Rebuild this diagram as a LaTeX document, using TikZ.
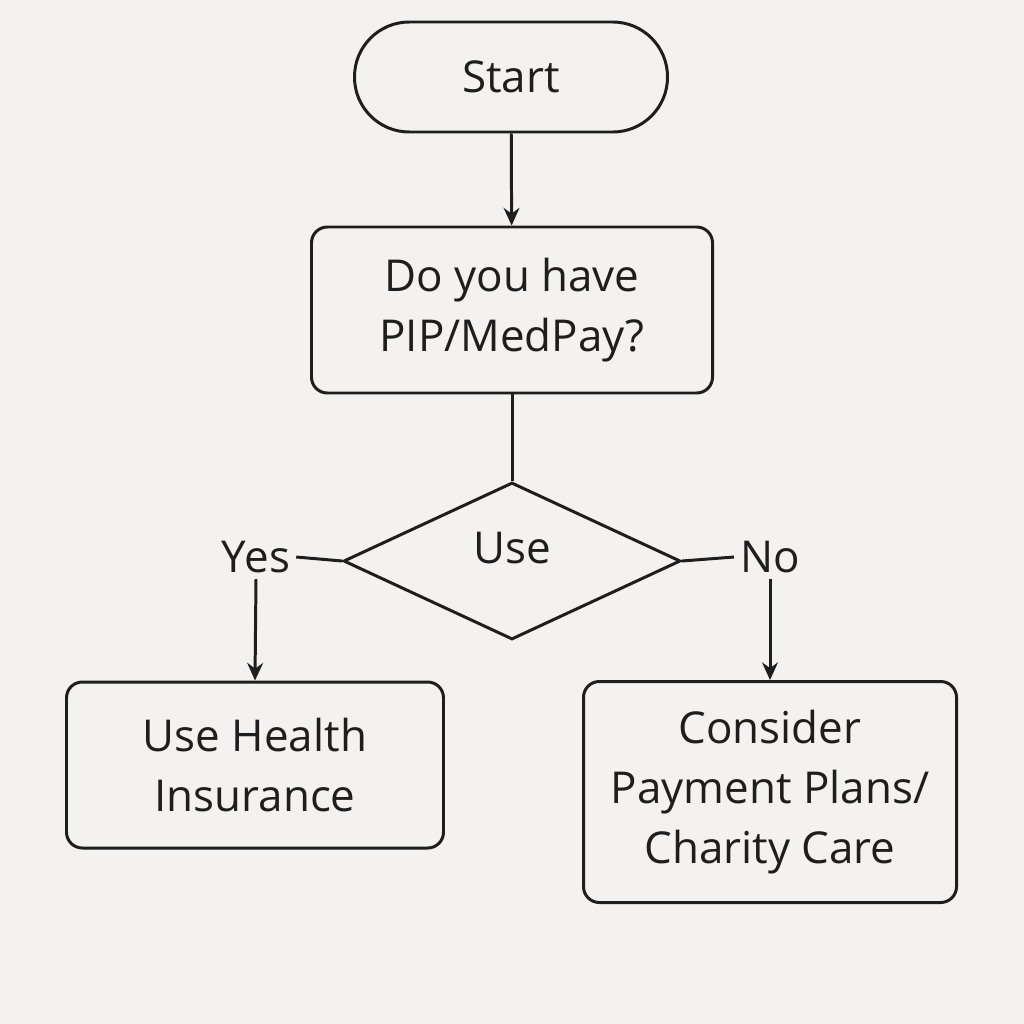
\documentclass[tikz,border=0pt]{standalone}
\usepackage{fontspec}
\setmainfont{Open Sans}
\usetikzlibrary{shapes.geometric,arrows.meta}
\definecolor{bgpaper}{HTML}{F3F2F0}
\definecolor{ink}{HTML}{1E1E1E}
\tikzset{
  box/.style={draw=ink, line width=1.7pt, rounded corners=9pt, align=center,
    inner sep=0pt, font=\fontsize{25}{34}\selectfont\color{ink}},
  lbl/.style={font=\fontsize{25}{30}\selectfont\color{ink}},
  flow/.style={draw=ink, line width=1.7pt, -{Stealth[length=10pt,width=9pt]}},
  plain/.style={draw=ink, line width=1.7pt},
}
\begin{document}
\begin{tikzpicture}[x=0.02cm,y=-0.02cm]
    \fill[bgpaper] (0,0) rectangle (1024,1024);
    \useasboundingbox (0,0) rectangle (1024,1024);

    \node[box, rounded corners=55pt*0.567, minimum width=313*0.02cm, minimum height=110*0.02cm] (start) at (511,77) {Start};
    \node[box, minimum width=401*0.02cm, minimum height=166*0.02cm] (q) at (512,310) {Do you have\\PIP/MedPay?};
    \node[diamond, draw=ink, line width=1.7pt, inner sep=0pt, minimum width=337*0.02cm, minimum height=157*0.02cm] (d) at (512,561) {};
    \node[lbl] (use) at (512,548) {Use};
    \node[lbl] (yes) at (256,557) {Yes};
    \node[lbl] (no) at (770,557) {No};
    \node[box, minimum width=377*0.02cm, minimum height=166*0.02cm] (health) at (255,765) {Use Health\\Insurance};
    \node[box, minimum width=373*0.02cm, minimum height=221*0.02cm] (plans) at (770,792) {Consider\\Payment Plans/\\Charity Care};

    \draw[flow] (start) -- (q);
    \draw[plain] (q) -- (d.north);
    \draw[plain] (d.west) -- (yes.east);
    \draw[plain] (d.east) -- (no.west);
    \draw[flow] (yes.south) -- (health.north);
    \draw[flow] (no.south) -- (plans.north);
\end{tikzpicture}
\end{document}
